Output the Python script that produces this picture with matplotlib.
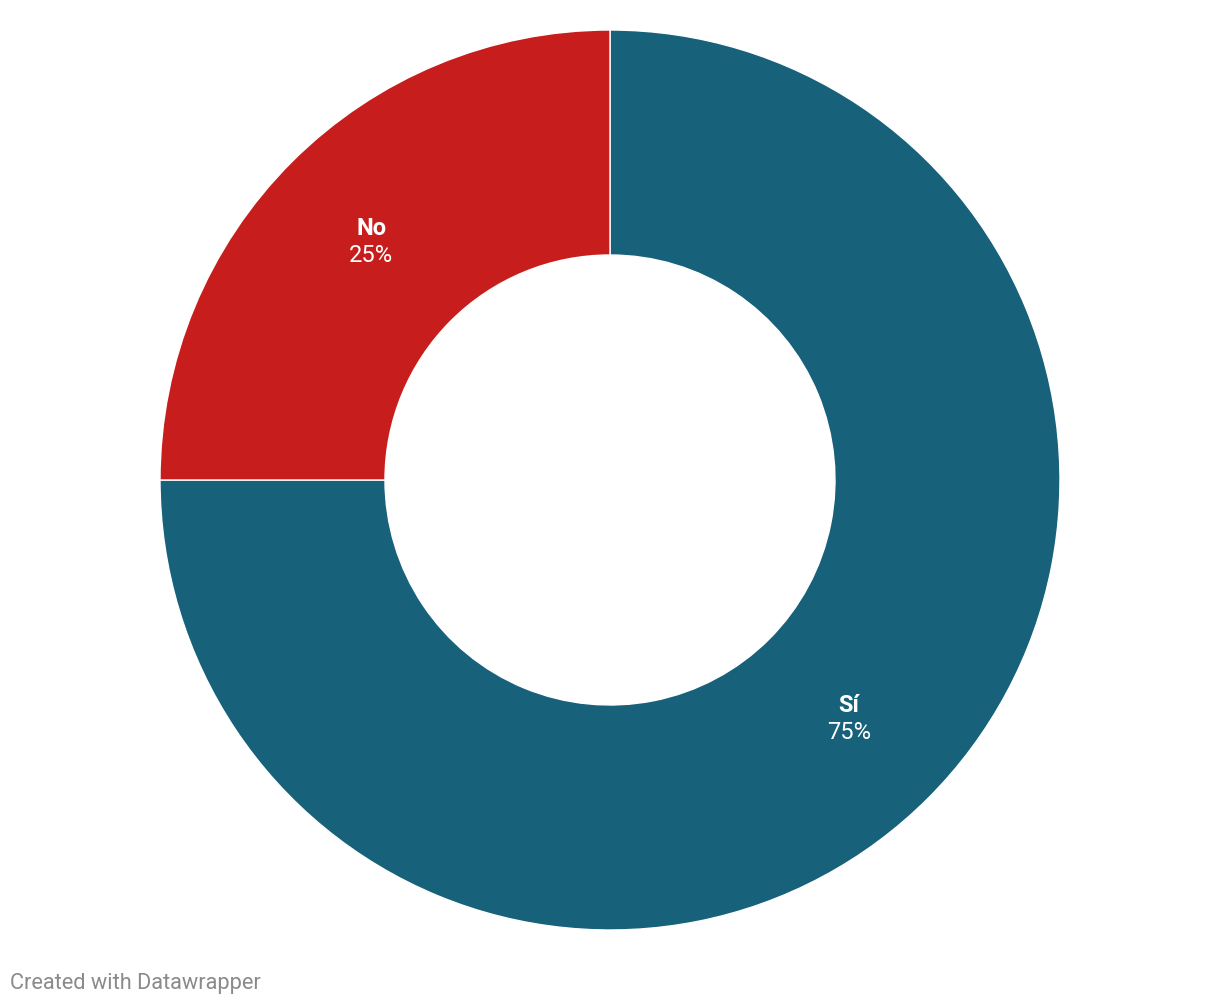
import numpy as np
import matplotlib
matplotlib.use("Agg")
import matplotlib.pyplot as plt

# data
labels = ["Sí", "No"]
values = [75, 25]
colors = ["#17617b", "#c71e1d"]

W, H = 1220, 1006
cx, cy = 610, H - 480
r_out, r_in = 450, 225

plt.rcParams['font.family'] = ['Roboto', 'DejaVu Sans']

fig = plt.figure(figsize=(W / 100, H / 100), dpi=100)
ax = fig.add_axes([0, 0, 1, 1])

wedges, _ = ax.pie(values, colors=colors, startangle=90, counterclock=False,
	radius=r_out, center=(cx, cy),
	wedgeprops=dict(width=r_out - r_in, edgecolor='white', linewidth=1))

# labels at the middle of each ring segment
total = sum(values)
start = 90.0
r_mid = (r_out + r_in) / 2
for lab, v in zip(labels, values):
	ang = start - v / total * 360 / 2
	start -= v / total * 360
	x = cx + r_mid * np.cos(np.radians(ang))
	y = cy + r_mid * np.sin(np.radians(ang))
	ax.text(x, y + 13, lab, ha='center', va='center', color='white',
		fontsize=17, fontweight='bold')
	ax.text(x, y - 14, "{}%".format(v), ha='center', va='center', color='white',
		fontsize=17)

fig.text(10 / W, 1 - 983 / H, "Created with Datawrapper", ha='left', va='center',
	color='#8a8a8a', fontsize=15.7)

ax.set_xlim(0, W)
ax.set_ylim(0, H)
ax.set_aspect('equal')
ax.axis('off')
fig.savefig("out.png", dpi=100)
